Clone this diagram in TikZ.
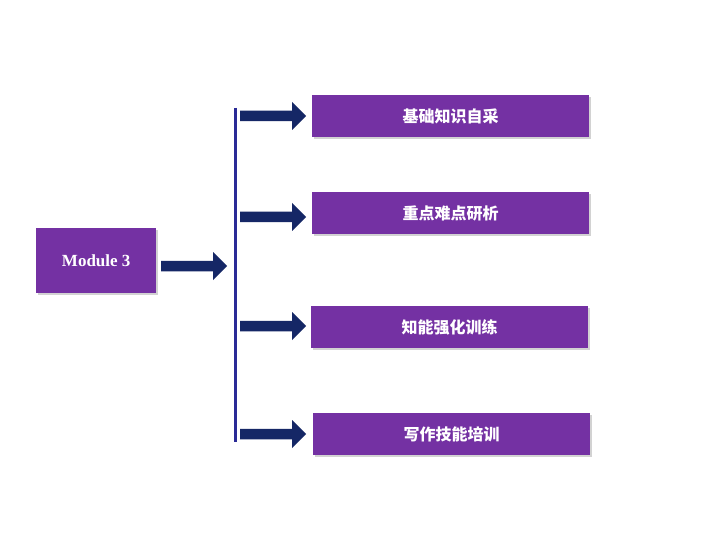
\documentclass[tikz,border=0pt]{standalone}
\usepackage{fontspec}
\setmainfont{Liberation Serif}
\newfontfamily\cjk{Noto Sans CJK SC}
\usetikzlibrary{shapes.arrows,shadows}
\definecolor{pur}{HTML}{7431A3}
\definecolor{navy}{HTML}{152766}
\definecolor{vline}{HTML}{2A2A96}
\tikzset{
 box/.style={fill=pur,draw=none,text=white,font=\cjk\bfseries\fontsize{16}{18}\selectfont,minimum width=277pt,minimum height=42pt,anchor=north west,drop shadow={shadow xshift=2pt,shadow yshift=-2pt,opacity=0.35}},
 arr/.style={single arrow,fill=navy,draw=none,minimum height=66pt,minimum width=28pt,single arrow head extend=7pt,single arrow head indent=0pt,inner sep=4pt,anchor=west}
}
\begin{document}
\begin{tikzpicture}[x=1pt,y=-1pt]
\useasboundingbox[fill=white] (0,0) rectangle (720,540);
\node[box,minimum width=120pt,minimum height=65pt,font=\bfseries\fontsize{17}{19}\selectfont] (m) at (36,228) {Module 3};
\node[arr] (a0) at (161,266) {};
\draw[vline,line width=3pt] (235,108) coordinate (t) -- (235,442) coordinate (b);
\node[box] (b1) at (312,95) {基础知识自采};
\node[box] (b2) at (312,192) {重点难点研析};
\node[box] (b3) at (311,306) {知能强化训练};
\node[box] (b4) at (313,413) {写作技能培训};
\node[arr] (a1) at (240,116) {};
\node[arr] (a2) at (240,217) {};
\node[arr] (a3) at (240,326) {};
\node[arr] (a4) at (240,434) {};
\end{tikzpicture}
\end{document}
